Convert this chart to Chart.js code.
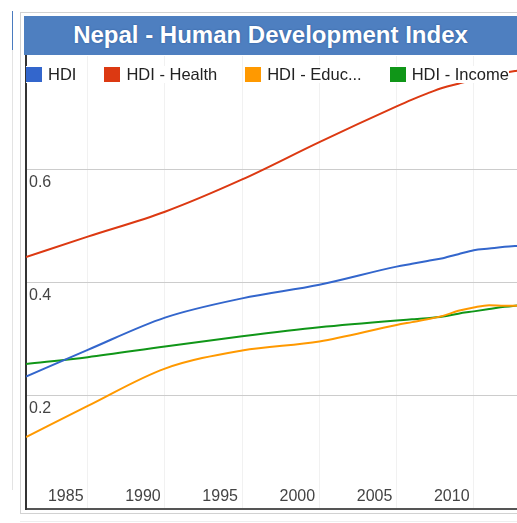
<!DOCTYPE html>
<html><head><meta charset="UTF-8">
<title>Nepal - Human Development Index</title>
<style>
* { margin: 0; padding: 0; box-sizing: border-box; }
html, body {
  width: 517px; height: 523px; overflow: hidden; background: #fff;
  font-family: Arial, "Liberation Sans", sans-serif;
}
.page-edge { position: absolute; left: 12px; top: 11px; width: 1px; height: 479px; background: #e3e3e3; }
.page-edge-top { position: absolute; left: 12px; top: 11px; width: 1px; height: 39px; background: #4a7bbf; }
.frame { position: absolute; left: 20px; top: 12px; width: 520px; height: 502px; border: 1px solid #d2d2d2; }
.shelf { position: absolute; left: 20px; top: 521px; width: 500px; height: 1px; background: #eeeeee; }
.title {
  position: absolute; left: 24px; top: 16px; width: 493px; height: 39px;
  background: #4e7fc0; color: #fff; font-weight: bold; font-size: 24px;
  line-height: 37px; text-align: center; text-shadow: 0 0 2px #2b5694;
}
.chart-box { position: absolute; left: 0; top: 0; width: 517px; height: 523px; }
.legend {
  position: absolute; left: 26px; top: 66px; display: flex;
  font-size: 16.5px; color: #222; line-height: 17px; white-space: nowrap;
}
.legend-item { display: flex; align-items: center; margin-right: 28px; background: #fff; }
.legend-swatch { width: 16px; height: 15px; margin-right: 6px; }
</style>
<script src="https://cdn.jsdelivr.net/npm/chart.js"></script>
</head>
<body>

<div class="page-edge"></div>
<div class="page-edge-top"></div>
<div class="frame"></div>
<div class="shelf"></div>
<div class="title">Nepal - Human Development Index</div>
<div class="chart-box"><canvas id="hdiChart"></canvas></div>
<div class="legend" id="legend"></div>

<script>
const years = [1981, 1985, 1990, 1995, 2000, 2005, 2006, 2007, 2008, 2009, 2010, 2011, 2012, 2013];
const hdi = [0.234, 0.281, 0.338, 0.372, 0.396, 0.428, 0.433, 0.438, 0.443, 0.450, 0.457, 0.460, 0.463, 0.465];
const health = [0.445, 0.481, 0.525, 0.582, 0.648, 0.711, 0.723, 0.734, 0.744, 0.751, 0.758, 0.764, 0.770, 0.775];
const education = [0.127, 0.182, 0.248, 0.280, 0.296, 0.325, 0.330, 0.335, 0.341, 0.350, 0.356, 0.360, 0.359, 0.359];
const income = [0.256, 0.268, 0.287, 0.305, 0.321, 0.333, 0.335, 0.337, 0.340, 0.345, 0.349, 0.353, 0.357, 0.360];

const seriesNames = ['HDI', 'HDI - Health', 'HDI - Educ...', 'HDI - Income'];
const seriesColors = ['#3366cc', '#dc3912', '#ff9900', '#109618'];
const xTicks = [1985, 1990, 1995, 2000, 2005, 2010];
const yTicks = [0.2, 0.4, 0.6];

function toPoints(values) {
  return values.map((v, i) => ({ x: years[i], y: v }));
}

Chart.defaults.font.family = 'Arial, "Liberation Sans", sans-serif';

const datasets = [hdi, health, education, income].map((values, i) => ({
  label: seriesNames[i],
  data: toPoints(values),
  borderColor: seriesColors[i],
  backgroundColor: seriesColors[i],
  borderWidth: 2,
  pointRadius: 0,
  cubicInterpolationMode: 'monotone',
  fill: false
}));

const isLabelled = v => yTicks.some(t => Math.abs(t - v) < 1e-6);

const chart = new Chart(document.getElementById('hdiChart'), {
  type: 'line',
  data: { datasets: datasets },
  options: {
    responsive: true,
    maintainAspectRatio: false,
    animation: false,
    layout: { padding: { left: 20, top: 56, right: 0, bottom: 9.2 } },
    plugins: {
      legend: { display: false },
      tooltip: { enabled: false }
    },
    scales: {
      x: {
        type: 'linear',
        min: 1981,
        max: 2012.8,
        afterBuildTicks: axis => { axis.ticks = xTicks.map(v => ({ value: v })); },
        border: { color: '#555555', width: 2 },
        grid: { color: '#f1f1f1', drawTicks: false },
        ticks: {
          mirror: true,
          padding: 2.4,
          labelOffset: -22,
          maxRotation: 0,
          autoSkip: false,
          color: '#444444',
          font: { size: 16 },
          callback: v => String(v)
        }
      },
      y: {
        min: 0,
        max: 0.8,
        border: { color: '#333333', width: 2 },
        grid: {
          drawTicks: false,
          color: ctx => isLabelled(ctx.tick.value) ? '#cccccc' : 'rgba(0,0,0,0)'
        },
        ticks: {
          stepSize: 0.2,
          mirror: true,
          padding: 3,
          labelOffset: 13,
          color: '#444444',
          font: { size: 16 },
          callback: v => isLabelled(v) ? (Math.round(v * 10) / 10).toFixed(1) : ''
        }
      }
    }
  }
});

const legend = document.getElementById('legend');
chart.data.datasets.forEach(ds => {
  const item = document.createElement('div');
  item.className = 'legend-item';
  item.innerHTML = '<span class="legend-swatch" style="background:' + ds.borderColor + '"></span>' +
    '<span>' + ds.label + '</span>';
  legend.appendChild(item);
});
</script>
</body></html>
